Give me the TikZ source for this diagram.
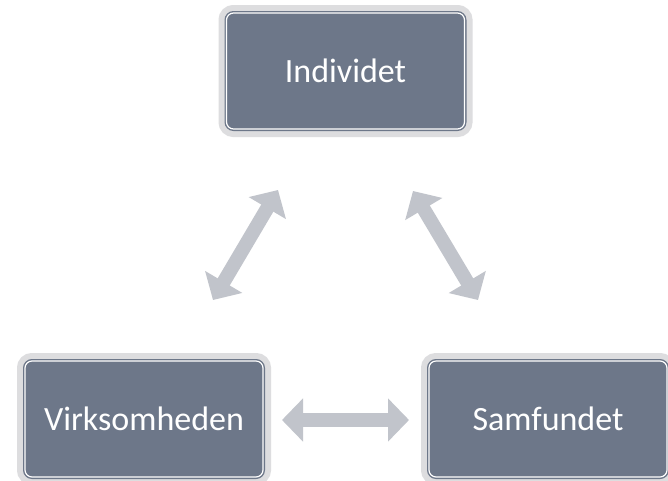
\documentclass[tikz,border=0pt]{standalone}
\usepackage{fontspec}
\setmainfont{Carlito}
\usetikzlibrary{arrows.meta}
\definecolor{boxgray}{HTML}{DDDDDF}
\definecolor{boxdark}{HTML}{6D7789}
\definecolor{arrowgray}{HTML}{C1C4CB}
\tikzset{
  box/.style={rectangle, rounded corners=7pt, minimum width=238pt, minimum height=116pt,
    inner sep=0pt, fill=boxdark, draw=white, line width=1.2pt, text=white,
    font=\fontsize{34}{40}\selectfont,
    preaction={draw=boxgray, line width=16pt},
    preaction={draw=boxdark, line width=4pt}},
  dblarrow/.style={draw=arrowgray, line width=14pt,
    {Triangle[width=42pt,length=21pt]}-{Triangle[width=42pt,length=21pt]}}
}
\begin{document}
\begin{tikzpicture}[x=1pt,y=-1pt]
\useasboundingbox (0,0) rectangle (668,480);
\fill[white] (0,0) rectangle (668,480);
\node[box] (ind) at (345.5,71) {Individet};
\node[box] (virk) at (144,419) {Virksomheden};
\node[box] (sam) at (548,419) {Samfundet};
\coordinate (a1) at (278,190);
\coordinate (a2) at (213,300);
\coordinate (b1) at (413,191);
\coordinate (b2) at (478,300);
\coordinate (c1) at (282,420);
\coordinate (c2) at (409,420);
\draw[dblarrow] (a1) -- (a2);
\draw[dblarrow] (b1) -- (b2);
\draw[dblarrow] (c1) -- (c2);
\end{tikzpicture}
\end{document}
